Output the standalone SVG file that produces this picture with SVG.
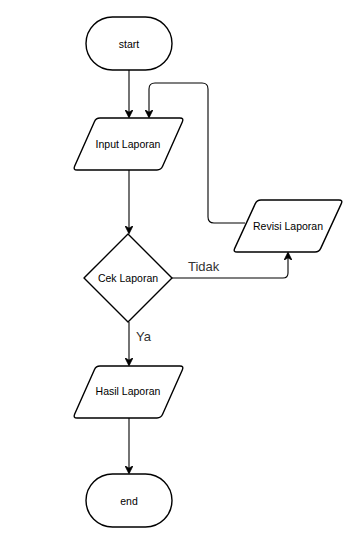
<svg xmlns="http://www.w3.org/2000/svg" width="357" height="541" viewBox="0 0 357 541">
  <style>
    .shape { fill: #ffffff; stroke: #000000; stroke-width: 1.4; stroke-linejoin: round; }
    .label { font-family: "Liberation Sans", Arial, sans-serif; font-size: 10.5px; fill: #000000; text-anchor: middle; dominant-baseline: central; }
    .edge-label { font-family: "Liberation Sans", Arial, sans-serif; font-size: 13px; fill: #333333; }
    .edge { fill: none; stroke: #000000; stroke-width: 1.1; }
  </style>
  <defs>
    <marker id="arrow" viewBox="0 0 10 10" refX="9" refY="5" markerWidth="8" markerHeight="8" markerUnits="userSpaceOnUse" orient="auto">
      <path d="M0,0 L10,5 L0,10 L3,5 Z" fill="#000000" stroke="#000000" stroke-width="1"/>
    </marker>
  </defs>
  <rect width="357" height="541" fill="#ffffff"/>

  <g id="connectors">
    <path class="edge" d="M129,70 V117" marker-end="url(#arrow)"/>
    <path class="edge" d="M129,170 V233" marker-end="url(#arrow)"/>
    <path class="edge" d="M129,322 V365" marker-end="url(#arrow)"/>
    <path class="edge" d="M129,418 V473" marker-end="url(#arrow)"/>
    <path class="edge" d="M172,278 H283 Q288,278 288,273 V253" marker-end="url(#arrow)"/>
    <path class="edge" d="M245,223 H214 Q208,223 208,217 V89 Q208,83 202,83 H155 Q149,83 149,89 V117" marker-end="url(#arrow)"/>
  </g>

  <g id="start">
    <rect class="shape" x="86" y="17" width="86" height="53" rx="26.5"/>
    <text class="label" x="129" y="43.5">start</text>
  </g>

  <g id="input-laporan">
    <path class="shape" d="M100,118 H180 Q184,118 182.4,121.7 L162.6,166.3 Q161,170 157,170 H77 Q73,170 74.6,166.3 L94.4,121.7 Q96,118 100,118 Z"/>
    <text class="label" x="128" y="144">Input Laporan</text>
  </g>

  <g id="revisi-laporan">
    <path class="shape" d="M261,200 H339 Q343,200 341.3,203.6 L320.7,248.4 Q319,252 315,252 H237 Q233,252 234.7,248.4 L255.3,203.6 Q257,200 261,200 Z"/>
    <text class="label" x="288" y="226">Revisi Laporan</text>
  </g>

  <g id="cek-laporan">
    <path class="shape" d="M128,234 L172,278 L128,322 L84,278 Z"/>
    <text class="label" x="128" y="278">Cek Laporan</text>
  </g>

  <g id="hasil-laporan">
    <path class="shape" d="M100,366 H180 Q184,366 182.4,369.7 L162.6,414.3 Q161,418 157,418 H77 Q73,418 74.6,414.3 L94.4,369.7 Q96,366 100,366 Z"/>
    <text class="label" x="128" y="391">Hasil Laporan</text>
  </g>

  <g id="end">
    <rect class="shape" x="86" y="474" width="86" height="53" rx="26.5"/>
    <text class="label" x="129" y="500.5">end</text>
  </g>

  <g id="edge-labels">
    <text class="edge-label" x="188" y="271">Tidak</text>
    <text class="edge-label" x="136" y="341">Ya</text>
  </g>
</svg>
